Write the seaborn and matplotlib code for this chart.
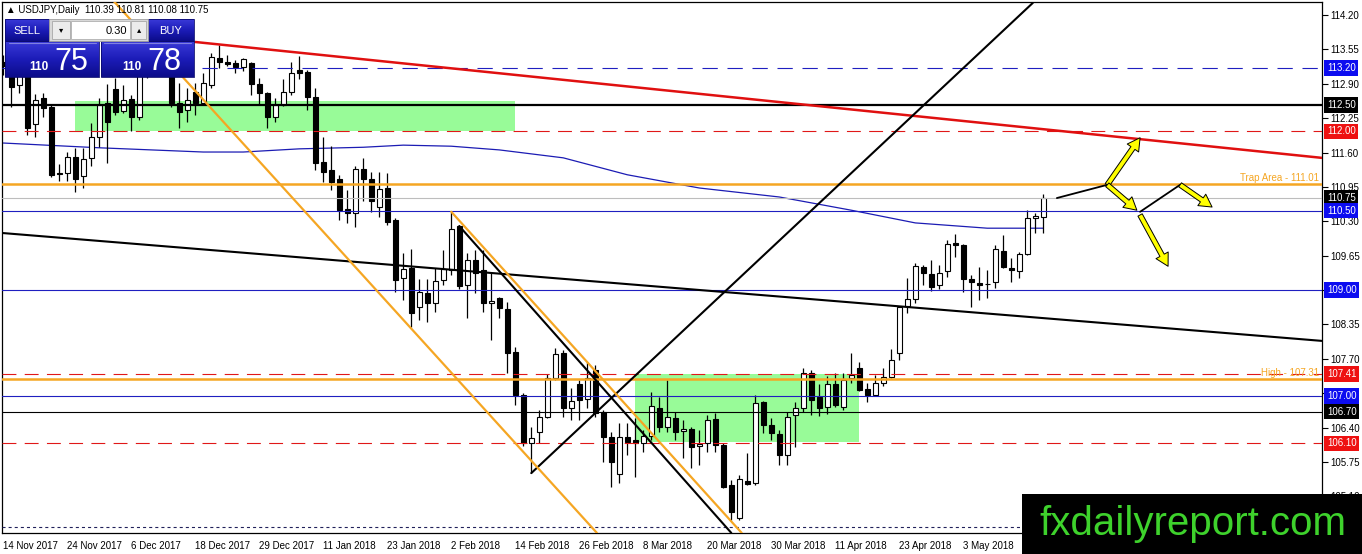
import numpy as np
import matplotlib
matplotlib.use("Agg")
import matplotlib.pyplot as plt
import matplotlib.transforms as mtransforms
from matplotlib.patches import Rectangle
from matplotlib.colors import LinearSegmentedColormap
import seaborn as sns

sns.set_style("white")
plt.rcParams["font.family"] = ["Liberation Sans", "DejaVu Sans"]
plt.rcParams["lines.scale_dashes"] = False

# ---------------- data ----------------
tick_bars = [0, 8, 16, 24, 32, 40, 48, 56, 64, 72, 80, 88, 96, 104, 112, 120]
tick_labels = ["14 Nov 2017", "24 Nov 2017", "6 Dec 2017", "18 Dec 2017", "29 Dec 2017",
               "11 Jan 2018", "23 Jan 2018", "2 Feb 2018", "14 Feb 2018", "26 Feb 2018",
               "8 Mar 2018", "20 Mar 2018", "30 Mar 2018", "11 Apr 2018", "23 Apr 2018",
               "3 May 2018"]

y_ticks = [114.20, 113.55, 112.90, 112.25, 111.60, 110.95, 110.30, 109.65, 109.00,
           108.35, 107.70, 107.05, 106.40, 105.75, 105.10]
y_tick_labels = ["114.20", "113.55", "112.90", "112.25", "111.60", "110.95", "110.30",
                 "109.65", "", "108.35", "107.70", "", "106.40", "105.75", "105.10"]

opens = [113.31, 113.26, 112.88, 113.12, 112.14, 112.63, 112.46, 111.22, 111.22, 111.52,
         111.16, 111.50, 111.89, 112.54, 112.80, 112.39, 112.61, 112.27, 113.07, 113.35,
         113.39, 113.31, 112.54, 112.40, 112.74, 112.54, 112.88, 113.39, 113.31, 113.29,
         113.22, 113.29, 112.90, 112.73, 112.27, 112.50, 112.74, 113.16, 113.12, 112.65,
         111.42, 111.27, 111.10, 110.53, 110.46, 111.29, 111.10, 110.57, 110.93, 110.32,
         109.23, 109.42, 108.68, 108.94, 108.76, 109.19, 109.38, 110.21, 109.10, 109.57,
         109.38, 108.76, 108.85, 108.64, 107.83, 107.02, 106.11, 106.32, 106.60, 107.34,
         107.81, 106.77, 107.22, 106.94, 107.49, 106.70, 106.22, 105.52, 106.22, 106.17,
         106.11, 106.24, 106.77, 106.41, 106.58, 106.34, 106.37, 106.05, 106.11, 106.56,
         106.07, 105.32, 104.69, 105.39, 105.35, 106.88, 106.45, 106.28, 105.88, 106.64,
         106.77, 107.43, 106.98, 106.79, 107.22, 106.79, 107.34, 107.53, 107.13, 107.02,
         107.24, 107.36, 107.81, 108.70, 108.83, 109.44, 109.30, 109.10, 109.36, 109.89,
         109.85, 109.21, 109.13, 109.12, 109.15, 109.74, 109.42, 109.36, 109.68, 110.36,
         110.39]
highs = [113.44, 113.35, 113.20, 113.20, 112.71, 112.73, 112.50, 111.38, 111.61, 111.69,
         111.69, 112.16, 112.63, 112.90, 113.01, 112.88, 112.69, 113.12, 113.44, 113.54,
         113.63, 113.39, 112.91, 112.82, 112.91, 113.10, 113.48, 113.63, 113.44, 113.35,
         113.39, 113.31, 113.01, 112.74, 112.63, 112.99, 113.31, 113.43, 113.16, 112.82,
         111.89, 111.72, 111.18, 110.89, 111.35, 111.50, 111.23, 111.23, 111.21, 110.36,
         109.70, 109.78, 109.21, 109.21, 109.42, 109.76, 110.48, 110.23, 109.70, 109.76,
         109.76, 109.32, 108.87, 108.77, 107.92, 107.05, 106.41, 106.73, 107.41, 107.91,
         107.87, 107.15, 107.30, 107.64, 107.58, 106.73, 106.32, 106.49, 106.49, 106.58,
         106.36, 107.07, 106.98, 107.30, 106.70, 106.54, 106.41, 106.36, 106.64, 106.68,
         106.11, 105.41, 105.50, 105.92, 107.02, 106.90, 106.58, 106.36, 106.70, 106.88,
         107.53, 107.49, 107.22, 107.38, 107.43, 107.43, 107.81, 107.64, 107.24, 107.39,
         107.53, 107.89, 108.70, 109.23, 109.51, 109.47, 109.57, 109.47, 109.95, 110.06,
         109.87, 109.28, 109.44, 109.38, 109.85, 110.04, 109.61, 109.72, 110.51, 110.45,
         110.81]
lows = [113.07, 112.46, 112.73, 111.93, 111.89, 112.27, 111.14, 111.06, 111.06, 110.85,
        110.93, 111.35, 111.70, 111.40, 112.31, 112.35, 112.01, 112.22, 113.01, 113.24,
        113.20, 112.46, 112.06, 112.18, 112.31, 112.50, 112.82, 113.20, 113.24, 113.10,
        113.14, 112.69, 112.50, 112.06, 112.18, 112.48, 112.69, 112.99, 112.40, 111.27,
        111.04, 110.89, 110.32, 110.27, 110.19, 110.68, 110.48, 110.38, 110.23, 108.96,
        108.81, 108.30, 108.43, 108.40, 108.59, 109.10, 109.28, 109.02, 108.47, 108.94,
        108.59, 108.06, 108.47, 107.43, 106.83, 106.05, 105.54, 106.11, 106.58, 107.30,
        106.60, 106.54, 106.54, 106.77, 106.60, 105.75, 105.28, 105.35, 105.88, 105.47,
        105.94, 106.17, 106.32, 106.32, 106.17, 105.83, 105.64, 105.69, 105.94, 105.94,
        105.26, 104.65, 104.65, 105.31, 105.31, 106.30, 106.17, 105.69, 105.69, 106.03,
        106.70, 106.64, 106.62, 106.66, 106.79, 106.73, 107.24, 107.09, 106.88, 107.00,
        107.19, 107.34, 107.68, 108.57, 108.76, 109.10, 108.98, 109.02, 109.25, 109.63,
        108.96, 108.68, 108.81, 108.85, 109.04, 109.42, 109.15, 109.23, 109.66, 110.08,
        110.08]
closes = [113.24, 112.84, 113.12, 112.06, 112.59, 112.44, 111.18, 111.20, 111.52, 111.10,
          111.48, 111.89, 112.50, 112.18, 112.37, 112.59, 112.27, 113.07, 113.35, 113.39,
          113.31, 112.54, 112.37, 112.59, 112.54, 112.91, 113.41, 113.31, 113.27, 113.22,
          113.37, 112.90, 112.73, 112.27, 112.50, 112.74, 113.10, 113.10, 112.65, 111.40,
          111.23, 111.04, 110.51, 110.46, 111.29, 111.10, 110.68, 110.91, 110.29, 109.19,
          109.40, 108.57, 108.96, 108.76, 109.17, 109.40, 110.15, 109.08, 109.57, 109.32,
          108.76, 108.79, 108.66, 107.81, 107.02, 106.11, 106.20, 106.60, 107.34, 107.79,
          106.77, 106.90, 106.92, 107.34, 106.68, 106.22, 105.75, 106.22, 106.13, 106.11,
          106.24, 106.81, 106.41, 106.60, 106.32, 106.37, 106.03, 106.09, 106.54, 106.07,
          105.28, 104.81, 105.43, 105.33, 106.87, 106.45, 106.30, 105.88, 106.60, 106.77,
          107.43, 106.92, 106.77, 107.22, 106.83, 107.30, 107.39, 107.11, 107.02, 107.24,
          107.36, 107.68, 108.68, 108.83, 109.46, 109.32, 109.06, 109.32, 109.87, 109.85,
          109.21, 109.15, 109.10, 109.11, 109.78, 109.44, 109.38, 109.68, 110.36, 110.40,
          110.75]

ma_bars = [0, 12, 25, 30, 37, 45, 50, 56, 62, 70, 78, 87, 97, 106, 114, 123, 130]
ma_values = [111.78, 111.69, 111.61, 111.61, 111.67, 111.70, 111.74, 111.72, 111.65,
             111.50, 111.18, 110.93, 110.76, 110.51, 110.27, 110.17, 110.17]

# horizontal levels
h_levels = [113.20, 112.50, 112.00, 111.01, 110.75, 110.50, 109.00, 107.41, 107.31,
            107.00, 106.70, 106.10, 104.52]
h_colors = ["#1f1fc0", "black", "#e01818", "#f5a623", "#bdbdbd", "#1f1fc0", "#1f1fc0",
            "#e01818", "#f5a623", "#1f1fc0", "black", "#e01818", "#20205a"]
h_styles = ["blue_dash", "solid", "red_dash", "solid", "solid", "solid", "solid",
            "red_dash", "solid", "solid", "solid", "red_dash", "dot"]
h_widths = [0.8, 1.6, 0.8, 1.8, 0.8, 0.8, 0.8, 0.8, 1.8, 0.8, 0.8, 0.8, 0.8]

# right-side price boxes
box_prices = [113.20, 112.50, 112.00, 110.75, 110.50, 109.00, 107.41, 107.00, 106.70, 106.10]
box_texts = ["113.20", "112.50", "112.00", "110.75", "110.50", "109.00", "107.41",
             "107.00", "106.70", "106.10"]
box_colors = ["#0c0cf0", "black", "#ee1111", "black", "#0c0cf0", "#0c0cf0", "#ee1111",
              "#0c0cf0", "black", "#ee1111"]

# zones (bar from, bar to, price low, price high)
zone1 = [9, 64, 112.00, 112.57]
zone2 = [79, 107, 106.13, 107.42]

# trend lines
red_line_bars, red_line_prices = [24.0, 164.8], [113.69, 111.50]
blk_long_bars, blk_long_prices = [-0.2, 164.8], [110.08, 108.04]
blk_up_bars, blk_up_prices = [66.0, 128.7], [105.54, 114.43]
blk_down_bars, blk_down_prices = [57.0, 91.0], [110.21, 104.41]
org_short_bars, org_short_prices = [56.0, 92.3], [110.48, 104.41]
org_long_bars, org_long_prices = [13.7, 74.2], [114.48, 104.41]

# projection path (black connectors and yellow arrows)
conn1_bars, conn1_prices = [131.7, 138.0], [110.74, 110.99]
conn2_bars, conn2_prices = [142.1, 147.1], [110.48, 110.99]
arrow_from = [(138.0, 110.99), (138.0, 110.99), (147.1, 110.99), (142.1, 110.42)]
arrow_to = [(142.1, 111.88), (141.7, 110.51), (151.1, 110.57), (145.6, 109.45)]

# ---------------- figure ----------------
W, H = 1362, 554
fig = plt.figure(figsize=(W / 100, H / 100), dpi=100)
fig.patch.set_facecolor("white")
ax = fig.add_axes([2 / W, 1 - 533 / H, 1320 / W, 531 / H])
ax.set_facecolor("white")
ax.set_xlim(-0.16, 164.84)
ax.set_ylim(104.408, 114.446)

bars = np.arange(len(opens))
o = np.array(opens); c = np.array(closes); hi = np.array(highs); lo = np.array(lows)

# zones
for z in (zone1, zone2):
    ax.add_patch(Rectangle((z[0], z[2]), z[1] - z[0], z[3] - z[2],
                           facecolor="#98fb98", edgecolor="none", zorder=1))

# horizontal lines
style_map = {"solid": "-", "blue_dash": (0, (11, 7)), "red_dash": (0, (10, 6)),
             "dot": (0, (2.2, 2.2))}
for lev, col, st, lw in zip(h_levels, h_colors, h_styles, h_widths):
    ax.axhline(lev, color=col, linestyle=style_map[st], linewidth=lw, zorder=4)

# MA line
sns.lineplot(x=ma_bars, y=ma_values, ax=ax, color="#1c1cb4", linewidth=0.9, zorder=2)

# candles
body_col = ["white" if cc >= oo else "black" for oo, cc in zip(o, c)]
ax.vlines(bars, lo, hi, color="black", linewidth=0.9, zorder=3)
ax.bar(bars, np.maximum(np.abs(c - o), 0.012), bottom=np.minimum(o, c), width=0.62,
       color=body_col, edgecolor="black", linewidth=0.8, zorder=3.5)

# trend lines
ax.plot(red_line_bars, red_line_prices, color="#e01010", linewidth=1.8, zorder=5)
ax.plot(blk_long_bars, blk_long_prices, color="black", linewidth=1.5, zorder=5)
ax.plot(blk_up_bars, blk_up_prices, color="black", linewidth=1.5, zorder=5)
ax.plot(blk_down_bars, blk_down_prices, color="black", linewidth=1.5, zorder=5)
ax.plot(org_short_bars, org_short_prices, color="#f5a623", linewidth=1.6, zorder=5)
ax.plot(org_long_bars, org_long_prices, color="#f5a623", linewidth=1.6, zorder=5)

# projection arrows
ax.plot(conn1_bars, conn1_prices, color="black", linewidth=1.3, zorder=6)
ax.plot(conn2_bars, conn2_prices, color="black", linewidth=1.3, zorder=6)
for (x0, y0), (x1, y1) in zip(arrow_from, arrow_to):
    ax.annotate("", xy=(x1, y1), xytext=(x0, y0),
                arrowprops=dict(arrowstyle="simple,head_length=0.9,head_width=1.0,tail_width=0.35",
                                fc="#ffff00", ec="black", lw=0.7, shrinkA=0, shrinkB=0,
                                mutation_scale=10), zorder=7)

# labels on lines
trans = mtransforms.blended_transform_factory(ax.transAxes, ax.transData)
ax.text(0.998, 111.03, "Trap Area - 111.01", transform=trans, ha="right", va="bottom",
        fontsize=7, color="#f5a623", zorder=8)
ax.text(0.998, 107.33, "High - 107.31", transform=trans, ha="right", va="bottom",
        fontsize=7, color="#f5a623", zorder=8)

# price boxes at right
for p, t, col in zip(box_prices, box_texts, box_colors):
    ax.text(1.0038, p, t, transform=trans, ha="left", va="center", fontsize=7,
            color="white", clip_on=False, zorder=20,
            bbox=dict(boxstyle="square,pad=0.28", fc=col, ec="none"))

# axes styling
ax.yaxis.tick_right()
ax.set_yticks(y_ticks)
ax.set_yticklabels(y_tick_labels)
ax.set_xticks(tick_bars)
ax.set_xticklabels(tick_labels, ha="left")
ax.tick_params(axis="y", direction="out", length=4, width=0.8, pad=2, labelsize=7,
               colors="black")
ax.tick_params(axis="x", direction="out", length=4, width=0.8, pad=2, labelsize=7,
               colors="black")
for s in ax.spines.values():
    s.set_color("black")
    s.set_linewidth(0.9)
ax.set_xlabel("")
ax.set_ylabel("")
ax.grid(False)

# ---------------- overlay (title, trade panel, watermark) ----------------
ov = fig.add_axes([0, 0, 1, 1], zorder=10)
ov.patch.set_alpha(0)

ov.text(6, 10, "\u25b2 USDJPY,Daily  110.39 110.81 110.08 110.75", fontsize=7,
        va="center", ha="left", color="black")

grad_cmap = LinearSegmentedColormap.from_list("panel", ["#3a3ad8", "#1c1cb8", "#0c0c8a"])
grad = np.linspace(0, 1, 64).reshape(-1, 1)
for (x0, y0, w, h) in [(5, 19, 44, 22), (148, 19, 46, 22), (5, 41, 94, 36), (101, 41, 93, 36)]:
    ov.imshow(grad, cmap=grad_cmap, extent=(x0, x0 + w, y0 + h, y0), aspect="auto",
              origin="upper", interpolation="bilinear", zorder=1)
    ov.add_patch(Rectangle((x0, y0), w, h, fc="none", ec="#0a0a70", lw=0.6, zorder=2))
ov.plot([9, 96], [43, 43], color="#8080e0", lw=0.8, zorder=3)
ov.plot([104, 191], [43, 43], color="#8080e0", lw=0.8, zorder=3)
ov.add_patch(Rectangle((49, 19), 99, 22, fc="#d8d8d8", ec="#a0a0a0", lw=0.6, zorder=3))
ov.add_patch(Rectangle((52, 21), 18, 18, fc="#ececec", ec="#a8a8a8", lw=0.6, zorder=4))
ov.add_patch(Rectangle((71, 21), 59, 18, fc="white", ec="#b0b0b0", lw=0.6, zorder=4))
ov.add_patch(Rectangle((131, 21), 15, 18, fc="#ececec", ec="#a8a8a8", lw=0.6, zorder=4))
ov.text(27, 30.5, "SELL", fontsize=8, color="white", ha="center", va="center", zorder=5)
ov.text(171, 30.5, "BUY", fontsize=8, color="white", ha="center", va="center", zorder=5)
ov.text(61, 30, "\u25be", fontsize=6, color="black", ha="center", va="center",
        family=["DejaVu Sans"], zorder=5)
ov.text(139, 30, "\u25b4", fontsize=6, color="black", ha="center", va="center",
        family=["DejaVu Sans"], zorder=5)
ov.text(127, 30.5, "0.30", fontsize=8, color="black", ha="right", va="center", zorder=5)
ov.text(29, 70, "110", fontsize=8.5, weight="bold", color="white", ha="left",
        va="baseline", zorder=5)
ov.text(54, 70, "75", fontsize=22, color="white", ha="left", va="baseline", zorder=5)
ov.text(122, 70, "110", fontsize=8.5, weight="bold", color="white", ha="left",
        va="baseline", zorder=5)
ov.text(147, 70, "78", fontsize=22, color="white", ha="left", va="baseline", zorder=5)

ov.add_patch(Rectangle((1022, 494), 340, 60, fc="black", ec="none", zorder=5))
ov.text(1193, 535, "fxdailyreport.com", fontsize=29, color="#3ed22c", ha="center",
        va="baseline", zorder=6)

ov.set_xlim(0, W)
ov.set_ylim(H, 0)
ov.axis("off")

fig.savefig("out.png", dpi=100, facecolor="white")
